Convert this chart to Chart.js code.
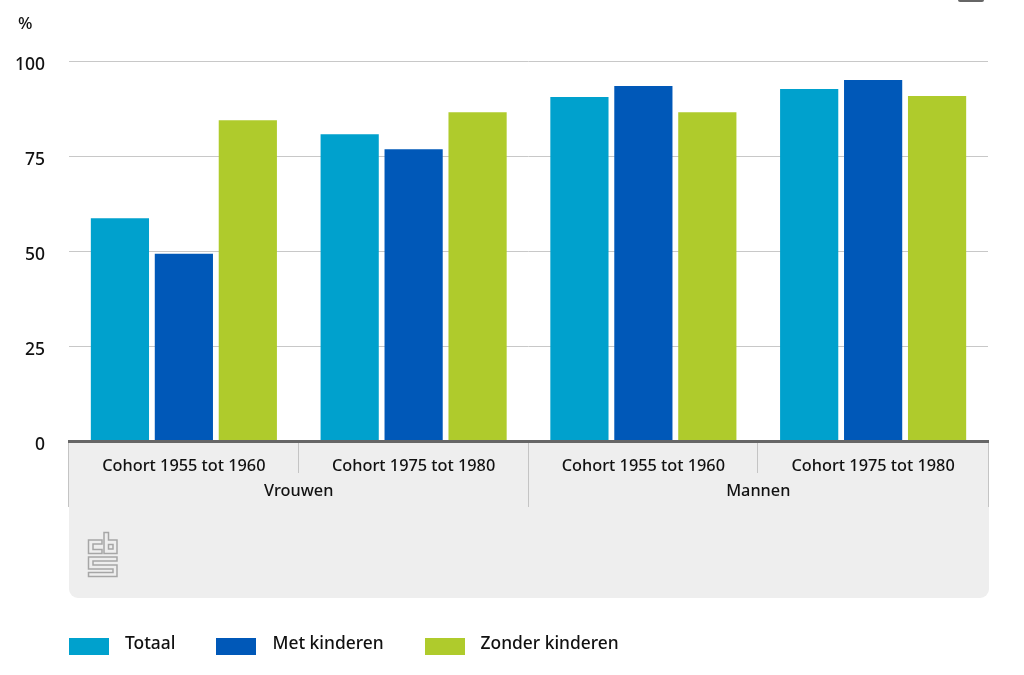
<!DOCTYPE html>
<html lang="nl">
<head>
<meta charset="utf-8">
<title>Cohorten</title>
<script src="https://cdn.jsdelivr.net/npm/chart.js@4"></script>
<style>
    html, body { margin: 0; padding: 0; background: #fff; }
    body { width: 1024px; height: 675px; position: relative; overflow: hidden; font-family: "Noto Sans", sans-serif; color: #111; }
    #wrap { position: absolute; left: 0; top: 0; width: 1024px; height: 675px; }
    #unit { position: absolute; left: 18px; top: 12px; font-size: 17px; line-height: 22px; font-weight: 500; }
    #menu { position: absolute; left: 958px; top: -4px; width: 26px; height: 6px; background: #666; border-radius: 2px; }
    #logo { position: absolute; left: 0; top: 0; }
    #legend { position: absolute; left: 69px; top: 630px; display: flex; font-size: 17.400px; line-height: 24px; font-weight: 500; }
    .item { display: flex; margin-right: 41px; }
    .box { width: 40px; height: 17px; margin: 8px 16px 0 0; }
</style>
</head>
<body>
<div id="wrap"><canvas id="chart"></canvas></div>
<div id="unit">%</div>
<div id="menu"></div>
<svg id="logo" width="1024" height="675" fill="none" stroke="#a6a6a6" stroke-width="1.5">
    <path d="M88.500 540H102V544H93V549.500H102V553.500H88.500Z"/>
    <path d="M104 532.500H108.500V540H117V553.500H104Z"/>
    <path d="M108.500 544.500H113V549H108.500Z"/>
    <path d="M88.500 557H117V561H93V565H117V576.500H88.500V572.500H113V569H88.500Z"/>
</svg>
<div id="legend"></div>
<script>
const categories = ['Cohort 1955 tot 1960', 'Cohort 1975 tot 1980', 'Cohort 1955 tot 1960', 'Cohort 1975 tot 1980'];
const groups = ['Vrouwen', 'Mannen'];
const totaal = [58.6, 80.7, 90.5, 92.6];
const metKinderen = [49.3, 76.8, 93.4, 95];
const zonderKinderen = [84.4, 86.5, 86.5, 90.8];
const yTicks = [0, 25, 50, 75, 100];

const fontFamily = '"Noto Sans", sans-serif';
const textColor = '#111111';

// Grijs vlak en scheidingslijnen onder de as
const panelPlugin = {
    id: 'panel',
    beforeDraw(chart) {
        const { ctx, chartArea, scales } = chart;
        const top = chartArea.bottom;
        ctx.save();
        ctx.fillStyle = '#eeeeee';
        ctx.beginPath();
        ctx.roundRect(chartArea.left, top, chartArea.width + 1, 157, [0, 0, 9, 9]);
        ctx.fill();

        ctx.strokeStyle = '#c4c4c4';
        ctx.lineWidth = 1;
        const step = scales.x.width / categories.length;
        categories.forEach((c, i) => {
            const x = Math.round(scales.x.getPixelForTick(i) - step / 2) - 0.5;
            ctx.beginPath();
            ctx.moveTo(x, top);
            ctx.lineTo(x, top + (i % 2 === 0 ? 66 : 32));
            ctx.stroke();
        });
        ctx.beginPath();
        ctx.moveTo(chartArea.right + 0.5, top);
        ctx.lineTo(chartArea.right + 0.5, top + 66);
        ctx.stroke();
        ctx.restore();
    }
};

const datasets = [
    { label: 'Totaal', data: totaal, backgroundColor: '#00a1cd' },
    { label: 'Met kinderen', data: metKinderen, backgroundColor: '#0058b8' },
    { label: 'Zonder kinderen', data: zonderKinderen, backgroundColor: '#afcb2c' }
];

new Chart(document.getElementById('chart').getContext('2d'), {
    type: 'bar',
    data: { labels: categories, datasets: datasets },
    plugins: [panelPlugin],
    options: {
        responsive: true,
        maintainAspectRatio: false,
        animation: false,
        categoryPercentage: 0.835,
        barPercentage: 0.91,
        layout: { padding: { top: 61, right: 36, bottom: 177, left: 0 } },
        plugins: { legend: { display: false }, tooltip: { enabled: false } },
        scales: {
            x: {
                position: 'bottom',
                weight: 0,
                offset: true,
                grid: { display: false },
                border: { color: '#666666', width: 3, z: 2 },
                ticks: { color: textColor, font: { family: fontFamily, size: 16.3, weight: '500' }, padding: 8, maxRotation: 0, autoSkip: false },
                afterFit(scale) { scale.height = 33; }
            },
            x2: {
                type: 'category',
                axis: 'x',
                labels: groups,
                position: 'bottom',
                weight: 1,
                offset: true,
                grid: { display: false },
                border: { display: false },
                ticks: { color: textColor, font: { family: fontFamily, size: 16.3, weight: '500' }, padding: 0, maxRotation: 0, autoSkip: false },
                afterFit(scale) { scale.height = 24; }
            },
            y: {
                min: yTicks[0],
                max: yTicks[yTicks.length - 1],
                grid: { color: '#c8c8c8', drawTicks: false },
                border: { display: false },
                ticks: { color: textColor, font: { family: fontFamily, size: 17.5, weight: '500' }, padding: 24, labelOffset: 4 },
                afterBuildTicks(scale) { scale.ticks = yTicks.map(v => ({ value: v })); },
                afterFit(scale) { scale.width = 69; }
            }
        }
    }
});

// Legenda uit de datasets
const legend = document.getElementById('legend');
datasets.forEach(ds => {
    const item = document.createElement('div');
    item.className = 'item';
    const box = document.createElement('div');
    box.className = 'box';
    box.style.background = ds.backgroundColor;
    const text = document.createElement('span');
    text.textContent = ds.label;
    item.append(box, text);
    legend.appendChild(item);
});
</script>
</body>
</html>
